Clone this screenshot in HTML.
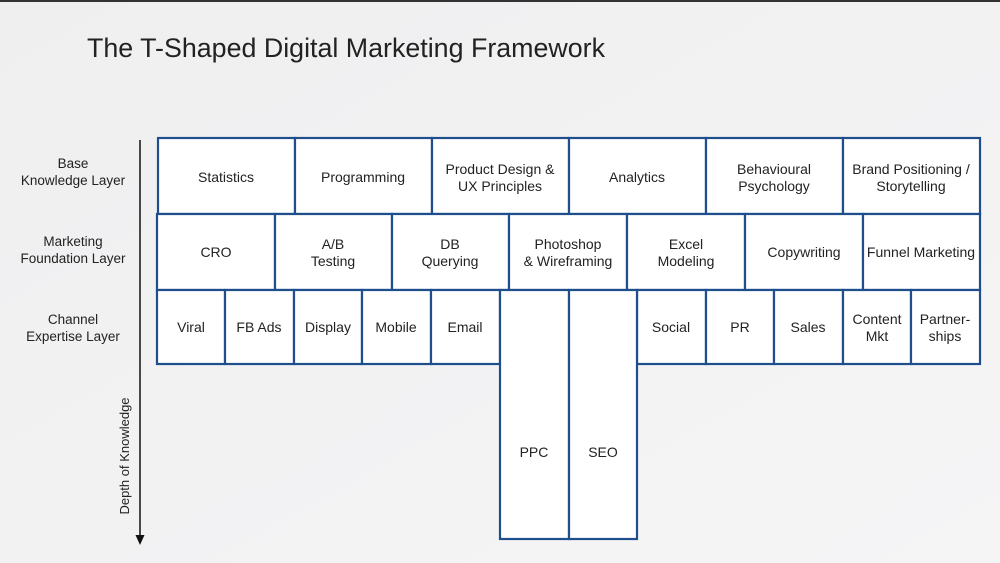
<!DOCTYPE html>
<html><head><meta charset="utf-8"><style>
html,body{margin:0;padding:0;width:1000px;height:563px;overflow:hidden;background:#f2f2f3}
svg{display:block}
text{font-family:"Liberation Sans",sans-serif;fill:#222}
</style></head><body>
<svg width="1000" height="563" viewBox="0 0 1000 563">
<defs><linearGradient id="bg" x1="0" y1="0" x2="1" y2="1"><stop offset="0" stop-color="#efeff0"/><stop offset="1" stop-color="#f5f5f6"/></linearGradient></defs>
<rect width="1000" height="563" fill="url(#bg)"/>
<rect x="0" y="0" width="1000" height="2" fill="#333"/>
<text x="87" y="57" font-size="27" textLength="518" lengthAdjust="spacingAndGlyphs">The T-Shaped Digital Marketing Framework</text>
<g font-size="13.5" text-anchor="middle" fill="#333">
<text x="73" y="168">Base</text><text x="73" y="185">Knowledge Layer</text>
<text x="73" y="246">Marketing</text><text x="73" y="263">Foundation Layer</text>
<text x="73" y="324">Channel</text><text x="73" y="341">Expertise Layer</text>
</g>
<line x1="140" y1="140" x2="140" y2="536" stroke="#111" stroke-width="1.5"/>
<polygon points="135.5,535 144.5,535 140,545" fill="#111"/>
<text transform="translate(129,456) rotate(-90)" font-size="13" text-anchor="middle">Depth of Knowledge</text>
<g fill="#fff" stroke="#1f4e8c" stroke-width="2.2">
<rect x="158" y="138" width="137" height="76"/><rect x="295" y="138" width="137" height="76"/><rect x="432" y="138" width="137" height="76"/><rect x="569" y="138" width="137" height="76"/><rect x="706" y="138" width="137" height="76"/><rect x="843" y="138" width="137" height="76"/>
<rect x="157" y="214" width="118" height="76"/><rect x="275" y="214" width="117" height="76"/><rect x="392" y="214" width="117" height="76"/><rect x="509" y="214" width="118" height="76"/><rect x="627" y="214" width="118" height="76"/><rect x="745" y="214" width="118" height="76"/><rect x="863" y="214" width="117" height="76"/>
<rect x="157" y="290" width="68" height="74"/><rect x="225" y="290" width="69" height="74"/><rect x="294" y="290" width="68" height="74"/><rect x="362" y="290" width="69" height="74"/><rect x="431" y="290" width="69" height="74"/>
<rect x="637" y="290" width="69" height="74"/><rect x="706" y="290" width="68" height="74"/><rect x="774" y="290" width="69" height="74"/><rect x="843" y="290" width="68" height="74"/><rect x="911" y="290" width="69" height="74"/>
<rect x="500" y="290" width="69" height="249"/><rect x="569" y="290" width="68" height="249"/>
</g>
<g font-size="14" text-anchor="middle" fill="#222">
<text x="226" y="182">Statistics</text><text x="363" y="182">Programming</text>
<text x="500" y="174">Product Design &amp;</text><text x="500" y="191">UX Principles</text>
<text x="637" y="182">Analytics</text>
<text x="774" y="174">Behavioural</text><text x="774" y="191">Psychology</text>
<text x="911" y="174">Brand Positioning /</text><text x="911" y="191">Storytelling</text>
<text x="216" y="257">CRO</text>
<text x="333" y="249">A/B</text><text x="333" y="266">Testing</text>
<text x="450" y="249">DB</text><text x="450" y="266">Querying</text>
<text x="568" y="249">Photoshop</text><text x="568" y="266">&amp; Wireframing</text>
<text x="686" y="249">Excel</text><text x="686" y="266">Modeling</text>
<text x="804" y="257">Copywriting</text>
<text x="921" y="257">Funnel Marketing</text>
<text x="191" y="332">Viral</text><text x="259" y="332">FB Ads</text><text x="328" y="332">Display</text><text x="396" y="332">Mobile</text><text x="465" y="332">Email</text>
<text x="671" y="332">Social</text><text x="740" y="332">PR</text><text x="808" y="332">Sales</text>
<text x="877" y="324">Content</text><text x="877" y="341">Mkt</text>
<text x="945" y="324">Partner-</text><text x="945" y="341">ships</text>
<text x="534" y="457">PPC</text><text x="603" y="457">SEO</text>
</g>
</svg>
</body></html>
